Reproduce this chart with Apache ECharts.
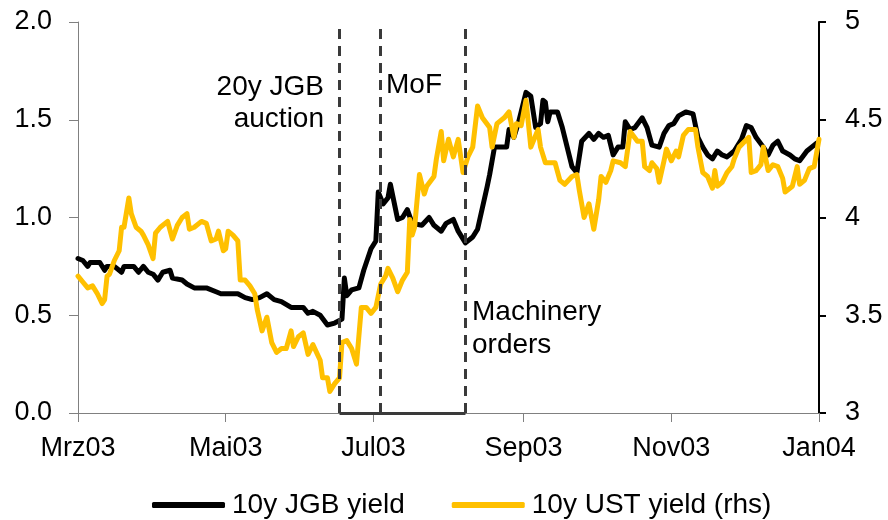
<!DOCTYPE html>
<html>
<head>
<meta charset="utf-8" />
<script src="https://cdn.jsdelivr.net/npm/echarts@6/dist/echarts.min.js"></script>
<style>
  html, body { margin: 0; padding: 0; background: #fff; }
  #chart { width: 888px; height: 520px; }
</style>
</head>
<body>
<div id="chart"></div>
<script>
  // 10y JGB yield (lhs)
  const jgbDates = [
    "2003-03-01", "2003-03-03", "2003-03-05", "2003-03-06", "2003-03-08", "2003-03-10",
    "2003-03-12", "2003-03-13", "2003-03-16", "2003-03-19", "2003-03-20", "2003-03-24",
    "2003-03-26", "2003-03-28", "2003-03-30", "2003-04-01", "2003-04-03", "2003-04-05",
    "2003-04-08", "2003-04-09", "2003-04-13", "2003-04-15", "2003-04-18", "2003-04-23",
    "2003-04-27", "2003-04-29", "2003-05-06", "2003-05-09", "2003-05-12", "2003-05-15",
    "2003-05-18", "2003-05-21", "2003-05-24", "2003-05-28", "2003-06-02", "2003-06-04",
    "2003-06-06", "2003-06-09", "2003-06-12", "2003-06-15", "2003-06-18", "2003-06-19",
    "2003-06-20", "2003-06-22", "2003-06-25", "2003-06-27", "2003-06-30", "2003-07-02",
    "2003-07-03", "2003-07-05", "2003-07-07", "2003-07-08", "2003-07-10", "2003-07-11",
    "2003-07-13", "2003-07-15", "2003-07-17", "2003-07-21", "2003-07-24", "2003-07-26",
    "2003-07-29", "2003-07-31", "2003-08-03", "2003-08-05", "2003-08-08", "2003-08-11",
    "2003-08-13", "2003-08-15", "2003-08-17", "2003-08-18", "2003-08-20", "2003-08-21",
    "2003-08-25", "2003-08-26", "2003-08-28", "2003-08-30", "2003-09-02", "2003-09-04",
    "2003-09-06", "2003-09-08", "2003-09-09", "2003-09-10", "2003-09-11", "2003-09-12",
    "2003-09-15", "2003-09-17", "2003-09-18", "2003-09-21", "2003-09-23", "2003-09-25",
    "2003-09-28", "2003-09-30", "2003-10-02", "2003-10-04", "2003-10-06", "2003-10-08",
    "2003-10-10", "2003-10-12", "2003-10-13", "2003-10-15", "2003-10-17", "2003-10-20",
    "2003-10-22", "2003-10-24", "2003-10-27", "2003-10-29", "2003-10-31", "2003-11-02",
    "2003-11-04", "2003-11-07", "2003-11-10", "2003-11-12", "2003-11-14", "2003-11-16",
    "2003-11-18", "2003-11-20", "2003-11-22", "2003-11-24", "2003-11-27", "2003-11-30",
    "2003-12-02", "2003-12-04", "2003-12-06", "2003-12-09", "2003-12-11", "2003-12-13",
    "2003-12-15", "2003-12-17", "2003-12-20", "2003-12-22", "2003-12-24", "2003-12-27",
    "2003-12-30", "2003-12-31"
  ];
  const jgbValues = [
    0.79, 0.78, 0.75, 0.77, 0.77, 0.77,
    0.73, 0.75, 0.75, 0.72, 0.75, 0.75,
    0.72, 0.75, 0.72, 0.71, 0.68, 0.72,
    0.73, 0.69, 0.68, 0.66, 0.64, 0.64,
    0.62, 0.61, 0.61, 0.59, 0.58, 0.59,
    0.61, 0.58, 0.57, 0.54, 0.54, 0.51,
    0.52, 0.50, 0.45, 0.46, 0.48, 0.69,
    0.60, 0.63, 0.64, 0.73, 0.84, 0.88,
    1.13, 1.07, 1.10, 1.17, 1.05, 0.99,
    1.00, 1.04, 0.97, 0.96, 1.00, 0.96,
    0.93, 0.97, 0.99, 0.93, 0.87, 0.90,
    0.94, 1.05, 1.16, 1.22, 1.36, 1.36,
    1.36, 1.45, 1.41, 1.49, 1.64, 1.62,
    1.46, 1.48, 1.60, 1.59, 1.49, 1.54,
    1.54, 1.46, 1.41, 1.26, 1.23, 1.39,
    1.43, 1.40, 1.43, 1.41, 1.42, 1.32,
    1.36, 1.36, 1.49, 1.45, 1.46, 1.51,
    1.46, 1.37, 1.36, 1.43, 1.47, 1.48,
    1.52, 1.54, 1.53, 1.41, 1.36, 1.32,
    1.30, 1.34, 1.32, 1.31, 1.34, 1.40,
    1.47, 1.46, 1.41, 1.36, 1.32, 1.37,
    1.39, 1.34, 1.32, 1.30, 1.29, 1.34,
    1.37, 1.38
  ];

  // 10y UST yield (rhs)
  const ustDates = [
    "2003-03-01", "2003-03-03", "2003-03-05", "2003-03-07", "2003-03-09", "2003-03-11",
    "2003-03-12", "2003-03-13", "2003-03-14", "2003-03-16", "2003-03-18", "2003-03-19",
    "2003-03-20", "2003-03-22", "2003-03-23", "2003-03-25", "2003-03-27", "2003-03-28",
    "2003-03-30", "2003-04-01", "2003-04-02", "2003-04-04", "2003-04-07", "2003-04-09",
    "2003-04-11", "2003-04-13", "2003-04-15", "2003-04-16", "2003-04-18", "2003-04-21",
    "2003-04-23", "2003-04-25", "2003-04-27", "2003-04-28", "2003-04-30", "2003-05-01",
    "2003-05-02", "2003-05-04", "2003-05-06", "2003-05-07", "2003-05-09", "2003-05-11",
    "2003-05-13", "2003-05-14", "2003-05-16", "2003-05-18", "2003-05-20", "2003-05-22",
    "2003-05-24", "2003-05-26", "2003-05-28", "2003-05-29", "2003-05-31", "2003-06-02",
    "2003-06-04", "2003-06-06", "2003-06-09", "2003-06-10", "2003-06-12", "2003-06-13",
    "2003-06-15", "2003-06-17", "2003-06-18", "2003-06-20", "2003-06-22", "2003-06-24",
    "2003-06-26", "2003-06-28", "2003-06-30", "2003-07-02", "2003-07-04", "2003-07-06",
    "2003-07-07", "2003-07-09", "2003-07-11", "2003-07-13", "2003-07-15", "2003-07-16",
    "2003-07-17", "2003-07-18", "2003-07-20", "2003-07-22", "2003-07-23", "2003-07-26",
    "2003-07-27", "2003-07-29", "2003-07-30", "2003-08-01", "2003-08-03", "2003-08-05",
    "2003-08-07", "2003-08-09", "2003-08-11", "2003-08-13", "2003-08-15", "2003-08-18",
    "2003-08-19", "2003-08-21", "2003-08-24", "2003-08-26", "2003-08-28", "2003-08-29",
    "2003-08-31", "2003-09-02", "2003-09-04", "2003-09-07", "2003-09-08", "2003-09-10",
    "2003-09-12", "2003-09-14", "2003-09-16", "2003-09-18", "2003-09-21", "2003-09-23",
    "2003-09-24", "2003-09-26", "2003-09-28", "2003-09-30", "2003-10-02", "2003-10-03",
    "2003-10-05", "2003-10-07", "2003-10-08", "2003-10-11", "2003-10-13", "2003-10-15",
    "2003-10-18", "2003-10-20", "2003-10-21", "2003-10-23", "2003-10-24", "2003-10-26",
    "2003-10-27", "2003-10-29", "2003-10-30", "2003-11-01", "2003-11-03", "2003-11-04",
    "2003-11-06", "2003-11-08", "2003-11-11", "2003-11-12", "2003-11-14", "2003-11-16",
    "2003-11-18", "2003-11-19", "2003-11-20", "2003-11-22", "2003-11-24", "2003-11-26",
    "2003-11-27", "2003-11-29", "2003-12-03", "2003-12-04", "2003-12-06", "2003-12-08",
    "2003-12-09", "2003-12-11", "2003-12-13", "2003-12-15", "2003-12-17", "2003-12-18",
    "2003-12-21", "2003-12-23", "2003-12-24", "2003-12-26", "2003-12-28", "2003-12-30",
    "2004-01-01"
  ];
  const ustValues = [
    3.70, 3.67, 3.64, 3.65, 3.61, 3.56,
    3.58, 3.70, 3.71, 3.78, 3.83, 3.95,
    3.95, 4.10, 4.02, 3.95, 3.93, 3.91,
    3.86, 3.79, 3.92, 3.95, 3.98, 3.89,
    3.96, 4.00, 4.02, 3.94, 3.95, 3.98,
    3.97, 3.88, 3.89, 3.93, 3.83, 3.84,
    3.93, 3.91, 3.88, 3.68, 3.68, 3.65,
    3.61, 3.53, 3.42, 3.49, 3.36, 3.31,
    3.33, 3.33, 3.42, 3.34, 3.39, 3.41,
    3.30, 3.35, 3.27, 3.18, 3.18, 3.11,
    3.15, 3.18, 3.36, 3.37, 3.33, 3.25,
    3.54, 3.54, 3.51, 3.54, 3.66, 3.70,
    3.74, 3.69, 3.62, 3.68, 3.72, 3.99,
    3.91, 3.95, 4.22, 4.12, 4.16, 4.21,
    4.30, 4.44, 4.29, 4.40, 4.31, 4.40,
    4.23, 4.31, 4.36, 4.57, 4.51, 4.46,
    4.36, 4.48, 4.51, 4.54, 4.41, 4.48,
    4.47, 4.60, 4.36, 4.45, 4.36, 4.28,
    4.28, 4.28, 4.19, 4.17, 4.21, 4.22,
    4.14, 4.00, 4.07, 3.94, 4.09, 4.21,
    4.18, 4.24, 4.29, 4.28, 4.26, 4.44,
    4.39, 4.39, 4.26, 4.24, 4.28, 4.25,
    4.18, 4.29, 4.35, 4.29, 4.34, 4.31,
    4.42, 4.45, 4.45, 4.36, 4.23, 4.21,
    4.15, 4.24, 4.16, 4.18, 4.23, 4.26,
    4.30, 4.36, 4.41, 4.23, 4.24, 4.27,
    4.36, 4.24, 4.27, 4.26, 4.20, 4.13,
    4.16, 4.26, 4.17, 4.19, 4.25, 4.26,
    4.40
  ];

  // x-axis ticks (German month abbreviations)
  const tickDates = ["2003-03-01", "2003-05-01", "2003-07-01", "2003-09-01", "2003-11-01", "2004-01-01"];
  const tickLabels = ["Mrz03", "Mai03", "Jul03", "Sep03", "Nov03", "Jan04"];

  // event markers: 20y JGB auction, MoF, Machinery orders
  const eventDates = ["2003-06-17", "2003-07-04", "2003-08-08"];

  const FONT = "'Liberation Sans', Arial, sans-serif";
  const toTime = (s) => {
    const p = s.split("-").map(Number);
    return Date.UTC(p[0], p[1] - 1, p[2]);
  };
  const tickTimes = tickDates.map(toTime);
  const eventTimes = eventDates.map(toTime);

  const chart = echarts.init(document.getElementById("chart"), null, { renderer: "canvas" });

  const dashStyle = { type: [10, 7], color: "#3a3a3a", width: 3 };

  const option = {
    animation: false,
    backgroundColor: "#ffffff",
    grid: {
      left: 78,
      right: 69,
      top: 22,
      bottom: 107,
      outerBoundsMode: "none",
    },
    legend: {
      left: 147,
      top: 486,
      icon: "roundRect",
      itemWidth: 73,
      itemHeight: 6,
      itemGap: 47,
      textStyle: { fontFamily: FONT, fontSize: 28, color: "#000", padding: [0, 0, 0, 2] },
      data: ["10y JGB yield", "10y UST yield (rhs)"],
    },
    xAxis: {
      type: "value",
      min: tickTimes[0],
      max: tickTimes[tickTimes.length - 1],
      axisLine: { show: true, lineStyle: { color: "#808080", width: 1 } },
      axisTick: {
        show: true,
        length: 9,
        lineStyle: { color: "#808080", width: 1 },
        customValues: tickTimes,
      },
      axisLabel: {
        customValues: tickTimes,
        margin: 22,
        fontFamily: FONT,
        fontSize: 27,
        color: "#000",
        formatter: (v) => {
          const i = tickTimes.indexOf(v);
          return i >= 0 ? tickLabels[i] : "";
        },
      },
      splitLine: { show: false },
    },
    yAxis: [
      {
        type: "value",
        position: "left",
        min: 0,
        max: 2,
        interval: 0.5,
        axisLine: { show: true, lineStyle: { color: "#808080", width: 1 } },
        axisTick: { show: true, length: 9, lineStyle: { color: "#808080", width: 1 } },
        axisLabel: {
          margin: 26,
          fontFamily: FONT,
          fontSize: 27,
          color: "#000",
          formatter: (v) => v.toFixed(1),
        },
        splitLine: { show: false },
      },
      {
        type: "value",
        position: "right",
        min: 3,
        max: 5,
        interval: 0.5,
        axisLine: { show: true, lineStyle: { color: "#000", width: 2 } },
        axisTick: { show: true, length: 7, lineStyle: { color: "#000", width: 2 } },
        axisLabel: {
          margin: 26,
          fontFamily: FONT,
          fontSize: 27,
          color: "#000",
          formatter: (v) => String(v),
        },
        splitLine: { show: false },
      },
    ],
    series: [
      {
        name: "10y JGB yield",
        type: "line",
        yAxisIndex: 0,
        showSymbol: false,
        symbol: "none",
        color: "#000000",
        lineStyle: { width: 5, color: "#000000", cap: "round", join: "round" },
        data: jgbDates.map((d, i) => [toTime(d), jgbValues[i]]),
        markLine: {
          silent: true,
          symbol: "none",
          label: { show: false },
          data: [
            { xAxis: eventTimes[0], lineStyle: dashStyle },
            { xAxis: eventTimes[1], lineStyle: dashStyle },
            { xAxis: eventTimes[2], lineStyle: dashStyle },
            [
              { coord: [eventTimes[0], 0], lineStyle: { type: "solid", color: "#3a3a3a", width: 3 } },
              { coord: [eventTimes[2], 0] },
            ],
          ],
        },
      },
      {
        name: "10y UST yield (rhs)",
        type: "line",
        yAxisIndex: 1,
        showSymbol: false,
        symbol: "none",
        color: "#FFC000",
        lineStyle: { width: 5, color: "#FFC000", cap: "round", join: "round" },
        data: ustDates.map((d, i) => [toTime(d), ustValues[i]]),
      },
    ],
    graphic: [
      {
        type: "text",
        style: {
          x: 324,
          y: 71,
          text: "20y JGB\nauction",
          textAlign: "right",
          textVerticalAlign: "top",
          lineHeight: 32,
          font: "28px " + FONT,
          fill: "#000",
        },
      },
      {
        type: "text",
        style: {
          x: 386,
          y: 69,
          text: "MoF",
          textAlign: "left",
          textVerticalAlign: "top",
          lineHeight: 32,
          font: "28px " + FONT,
          fill: "#000",
        },
      },
      {
        type: "text",
        style: {
          x: 472,
          y: 296,
          text: "Machinery\norders",
          textAlign: "left",
          textVerticalAlign: "top",
          lineHeight: 33,
          font: "28px " + FONT,
          fill: "#000",
        },
      },
    ],
  };

  chart.setOption(option);
</script>
</body>
</html>
